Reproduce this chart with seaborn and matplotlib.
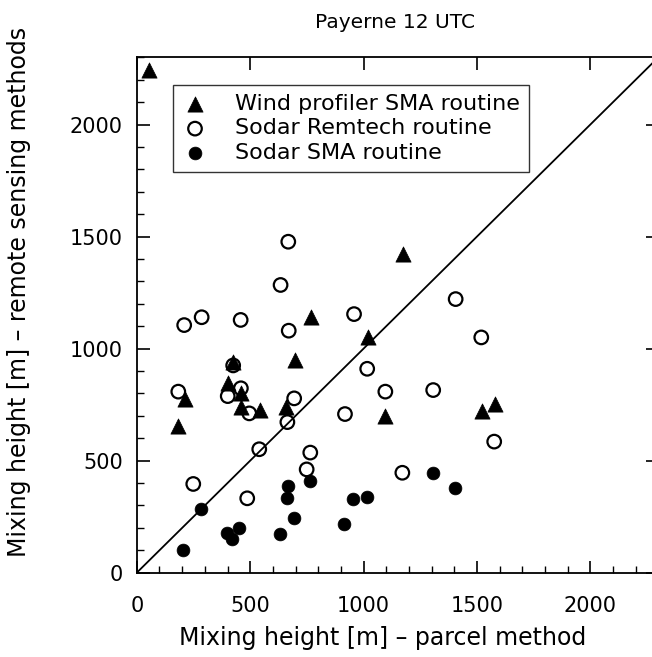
import matplotlib
matplotlib.use("Agg")
import matplotlib.pyplot as plt
from matplotlib.ticker import MultipleLocator
import seaborn as sns
import pandas as pd

sns.set_theme(style="white")
plt.rcParams['font.family'] = ['DejaVu Sans']
plt.rcParams['text.color'] = 'black'
plt.rcParams['axes.labelcolor'] = 'black'
plt.rcParams['xtick.color'] = 'black'
plt.rcParams['ytick.color'] = 'black'

# Wind profiler SMA routine (triangles)
wp_x = [54, 768, 697, 425, 403, 212, 183, 459, 459, 543, 656, 1175, 1018, 1094, 1521, 1579]
wp_y = [2243, 1142, 949, 940, 845, 774, 655, 800, 741, 726, 741, 1421, 1053, 698, 723, 753]

# Sodar Remtech routine (open circles)
rem_x = [668, 634, 209, 286, 458, 670, 183, 401, 459, 694, 496, 664, 918, 540, 249, 487,
         765, 749, 1171, 1576, 1406, 958, 1519, 1016, 1096, 1307, 425]
rem_y = [1477, 1284, 1105, 1140, 1128, 1080, 808, 788, 823, 778, 711, 672, 708, 551, 396, 332,
         536, 461, 446, 585, 1221, 1154, 1050, 910, 808, 815, 925]

# Sodar SMA routine (filled circles)
sma_x = [283, 202, 398, 421, 452, 631, 693, 667, 662, 765, 915, 955, 1014, 1305, 1403]
sma_y = [284, 101, 176, 149, 199, 173, 243, 386, 332, 409, 218, 327, 339, 446, 378]

labels = ["Wind profiler SMA routine", "Sodar Remtech routine", "Sodar SMA routine"]
ticks = [0, 500, 1000, 1500, 2000]

df_wp = pd.DataFrame({"x": wp_x, "y": wp_y})
df_rem = pd.DataFrame({"x": rem_x, "y": rem_y})
df_sma = pd.DataFrame({"x": sma_x, "y": sma_y})

fig = plt.figure(figsize=(6.52, 6.57), dpi=100)
ax = fig.add_axes([0.2098, 0.1283, 0.800, 0.7845])

ax.axline((0, 0), slope=1, color="black", lw=1.3, zorder=1)

sns.scatterplot(data=df_wp, x="x", y="y", ax=ax, marker="^", s=120,
                color="black", edgecolor="black", linewidth=0.5, label=labels[0], zorder=3)
sns.scatterplot(data=df_rem, x="x", y="y", ax=ax, marker="o", s=95,
                facecolor="none", edgecolor="black", linewidth=1.6, label=labels[1], zorder=2)
sns.scatterplot(data=df_sma, x="x", y="y", ax=ax, marker="o", s=85,
                color="black", edgecolor="black", linewidth=0.5, label=labels[2], zorder=2)

ax.set_xlim(0, 2300)
ax.set_ylim(0, 2300)
ax.set_xticks(ticks)
ax.set_yticks(ticks)
ax.xaxis.set_minor_locator(MultipleLocator(100))
ax.yaxis.set_minor_locator(MultipleLocator(100))
ax.tick_params(which="major", direction="in", length=9, width=1.2, color="black",
               labelsize=15, labelcolor="black", top=True, right=True, bottom=True, left=True)
ax.tick_params(which="minor", direction="in", length=5, width=1.0, color="black",
               top=False, right=False, bottom=True, left=True)
ax.tick_params(axis="x", which="major", pad=17)
ax.tick_params(axis="y", which="major", pad=10)
for sp in ax.spines.values():
    sp.set_color("black")
    sp.set_linewidth(1.3)

ax.set_xlabel("Mixing height [m] \u2013 parcel method", fontsize=17, color="black")
ax.set_ylabel("Mixing height [m] \u2013 remote sensing methods", fontsize=17, color="black")
ax.xaxis.set_label_coords(0.472, -0.104)
ax.yaxis.set_label_coords(-0.203, 0.545)
fig.text(0.606, 0.966, "Payerne 12 UTC", fontsize=14.5, ha="center", va="center", color="black")

leg = ax.legend(loc="upper left", bbox_to_anchor=(0.069, 0.946), frameon=True,
                fancybox=False, edgecolor="black", fontsize=16, handletextpad=1.2,
                borderpad=0.4, labelspacing=0.2, borderaxespad=0, handlelength=1.2)
leg.get_frame().set_linewidth(1.0)
for t in leg.get_texts():
    t.set_color("black")

fig.savefig("out.png", dpi=100)
